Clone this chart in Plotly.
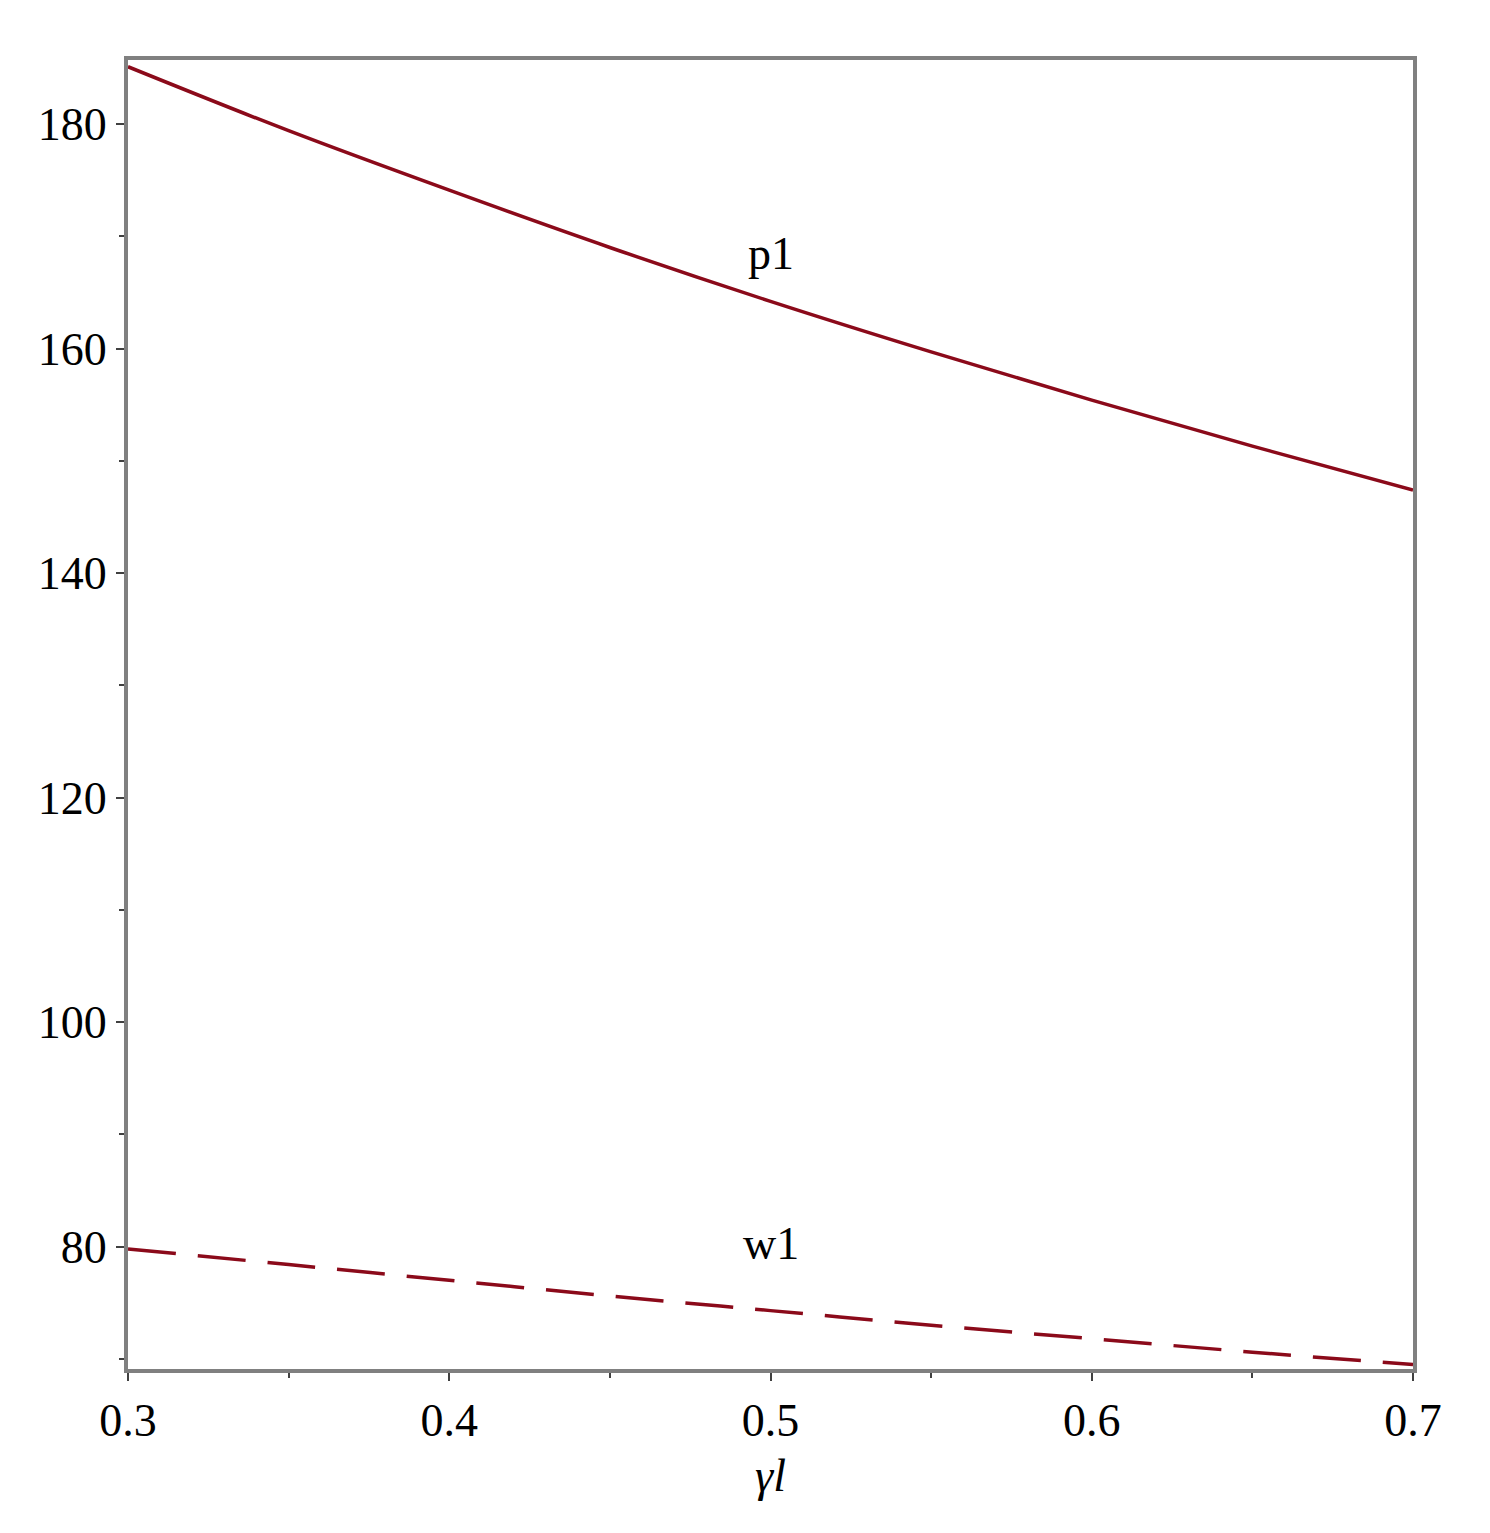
import plotly.graph_objects as go

gamma = [0.3, 0.35, 0.4, 0.45, 0.5, 0.55, 0.6, 0.65, 0.7]
p1 = [185.1, 179.4, 174.1, 169.0, 164.2, 159.7, 155.4, 151.3, 147.4]
w1 = [79.8, 78.4, 77.0, 75.6, 74.3, 73.0, 71.8, 70.6, 69.5]

col = "#8B0A1A"
fig = go.Figure()
fig.add_trace(go.Scatter(x=gamma, y=p1, mode="lines", line=dict(color=col, width=3.5, shape="spline")))
fig.add_trace(go.Scatter(x=gamma, y=w1, mode="lines", line=dict(color=col, width=3.5, dash="48px,22px", shape="spline")))
font = dict(family="Liberation Serif", size=46, color="black")
fig.add_annotation(x=0.5, y=168.5, text="p1", showarrow=False, font=font)
fig.add_annotation(x=0.5, y=80.3, text="w1", showarrow=False, font=font)
ax = dict(showline=True, linewidth=4, linecolor="#808080", mirror=True, showgrid=False, zeroline=False,
          ticks="outside", ticklen=8, tickwidth=2, tickcolor="#404040",
          tickfont=dict(family="Liberation Serif", size=46, color="black"))
fig.update_xaxes(**ax, range=[0.3, 0.7], dtick=0.1, tickformat=".1f",
                 minor=dict(ticks="outside", ticklen=5, tickwidth=2, tickcolor="#404040", dtick=0.05),
                 title=dict(text="<i>γl</i>", font=dict(family="Liberation Serif", size=46, color="black"), standoff=15))
fig.update_yaxes(**ax, range=[69.1, 185.7], tickvals=[80, 100, 120, 140, 160, 180],
                 minor=dict(ticks="outside", ticklen=5, tickwidth=2, tickcolor="#404040", tickvals=[70, 90, 110, 130, 150, 170]))
fig.update_layout(width=1490, height=1533, showlegend=False, plot_bgcolor="white", paper_bgcolor="white",
                  margin=dict(l=120, r=85, t=52, b=172))
fig.write_html("out.html")
